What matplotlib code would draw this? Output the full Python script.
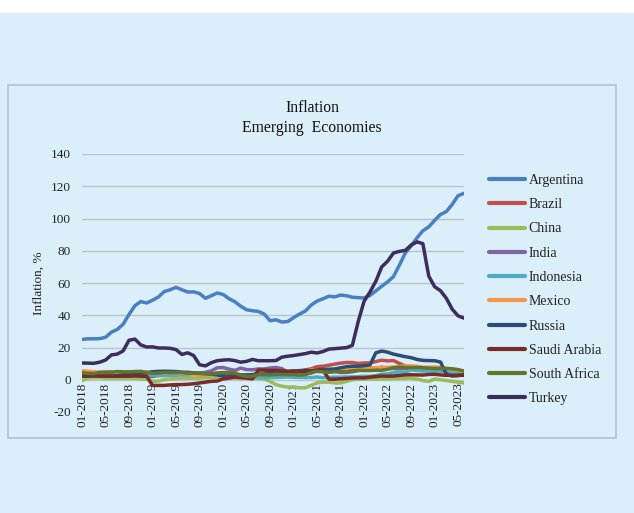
import matplotlib.pyplot as plt
from matplotlib.patches import Rectangle

plt.rcParams['font.family'] = ['Liberation Serif', 'DejaVu Serif']
plt.rcParams['axes.unicode_minus'] = False

# monthly values, 01-2018 .. 06-2023
months = ['%02d-%d' % (m, y) for y in range(2018, 2024) for m in range(1, 13)][:66]

argentina = [25.0, 25.4, 25.4, 25.5, 26.3, 29.5, 31.2, 34.4, 40.5, 45.9, 48.5, 47.6,
             49.3, 51.3, 54.7, 55.8, 57.3, 55.8, 54.4, 54.5, 53.5, 50.5, 52.1, 53.8,
             52.9, 50.3, 48.4, 45.6, 43.4, 42.8, 42.4, 40.7, 36.6, 37.2, 35.8, 36.1,
             38.5, 40.7, 42.6, 46.3, 48.8, 50.2, 51.8, 51.4, 52.5, 52.1, 51.2, 50.9,
             50.7, 52.3, 55.1, 58.0, 60.7, 64.0, 71.0, 78.5, 83.0, 88.0, 92.4, 94.8,
             98.8, 102.5, 104.3, 108.8, 114.2, 115.6]
brazil = [2.9, 2.8, 2.7, 2.8, 2.9, 4.4, 4.5, 4.2, 4.5, 4.6, 4.1, 3.8,
          3.8, 3.9, 4.6, 4.9, 4.7, 3.4, 3.2, 3.4, 2.9, 2.5, 3.3, 4.3,
          4.2, 4.0, 3.3, 2.4, 1.9, 2.1, 2.3, 2.4, 3.1, 3.9, 4.3, 4.5,
          4.6, 5.2, 6.1, 6.8, 8.1, 8.4, 9.0, 9.7, 10.3, 10.7, 10.7, 10.1,
          10.4, 10.5, 11.3, 12.1, 11.7, 11.9, 10.1, 8.7, 7.2, 6.5, 5.9, 5.8,
          5.8, 5.6, 4.7, 4.2, 3.9, 3.2]
china = [-0.5, 1.0, 1.2, 1.2, 1.0, 1.0, 1.0, 1.0, 1.0, 0.8, 0.5, 0.3,
         -1.0, -0.8, 0.0, 0.5, 0.8, 1.0, 1.0, 1.0, 1.0, 1.2, 1.2, 1.5,
         1.5, 1.5, 1.2, 1.0, 1.0, 1.0, 0.8, 0.5, -1.0, -3.0, -4.0, -4.5,
         -4.5, -5.0, -5.0, -3.5, -2.0, -1.5, -1.5, -2.0, -2.0, -1.0, 0.0, 0.5,
         0.5, 0.5, 0.5, 0.5, 0.5, 0.8, 0.8, 1.0, 1.0, 0.5, -0.5, -1.0,
         0.5, 0.0, -0.5, -1.0, -1.5, -2.0]
india = [5.1, 4.4, 4.3, 4.6, 4.9, 4.9, 4.2, 3.7, 3.7, 3.4, 2.3, 2.1,
         2.0, 2.6, 2.9, 3.0, 3.0, 3.2, 3.2, 3.3, 4.0, 4.6, 5.5, 7.4,
         7.6, 6.6, 5.8, 7.2, 6.3, 6.2, 6.7, 6.7, 7.3, 7.6, 6.9, 4.6,
         4.1, 5.0, 5.5, 4.2, 6.3, 6.3, 5.6, 5.3, 4.4, 4.5, 4.9, 5.7,
         6.0, 6.1, 7.0, 7.8, 7.0, 7.0, 6.7, 7.0, 7.4, 6.8, 5.9, 5.7,
         6.5, 6.4, 5.7, 4.7, 4.3, 4.8]
indonesia = [3.3, 3.2, 3.4, 3.4, 3.2, 3.1, 3.2, 3.2, 2.9, 3.2, 3.2, 3.1,
             2.8, 2.6, 2.5, 2.8, 3.3, 3.3, 3.3, 3.5, 3.4, 3.1, 3.0, 2.7,
             2.7, 3.0, 3.0, 2.7, 2.2, 2.0, 1.5, 1.3, 1.4, 1.4, 1.6, 1.7,
             1.6, 1.4, 1.4, 1.4, 1.7, 1.3, 1.5, 1.6, 1.6, 1.7, 1.8, 1.9,
             2.2, 2.1, 2.6, 3.5, 3.6, 4.4, 4.9, 4.7, 6.0, 5.7, 5.4, 5.5,
             5.3, 5.5, 5.0, 4.3, 4.0, 3.5]
mexico = [5.6, 5.3, 5.0, 4.6, 4.5, 4.7, 4.8, 4.9, 5.0, 4.9, 4.7, 4.8,
          4.4, 3.9, 4.0, 4.4, 4.3, 4.0, 3.8, 3.2, 3.0, 3.0, 3.0, 2.8,
          3.2, 3.7, 3.3, 2.2, 2.8, 3.3, 3.6, 4.1, 4.0, 4.1, 3.3, 3.2,
          3.5, 3.8, 4.7, 6.1, 5.9, 5.9, 5.8, 5.6, 6.0, 6.2, 7.4, 7.4,
          7.1, 7.3, 7.5, 7.7, 7.7, 8.0, 8.2, 8.7, 8.7, 8.4, 7.8, 7.8,
          7.9, 7.6, 6.9, 6.3, 5.8, 5.1]
russia = [2.2, 2.2, 2.4, 2.4, 2.4, 2.3, 2.5, 3.1, 3.4, 3.5, 3.8, 4.3,
          5.0, 5.2, 5.3, 5.2, 5.1, 4.7, 4.6, 4.3, 4.0, 3.8, 3.5, 3.0,
          2.4, 2.3, 2.5, 3.1, 3.0, 3.2, 3.4, 3.6, 3.7, 4.0, 4.4, 4.9,
          5.2, 5.7, 5.8, 5.5, 6.0, 6.5, 6.5, 6.7, 7.4, 8.1, 8.4, 8.4,
          8.7, 9.2, 16.7, 17.8, 17.1, 15.9, 15.1, 14.3, 13.7, 12.6, 12.0, 11.9,
          11.8, 11.0, 3.5, 2.3, 2.5, 3.3]
saudi = [2.5, 2.5, 2.5, 2.3, 2.2, 2.2, 2.2, 2.2, 2.2, 2.4, 2.2, 2.2,
         -3.5, -3.5, -3.5, -3.2, -3.0, -3.0, -2.8, -2.5, -2.0, -1.5, -1.0, -0.8,
         0.5, 1.0, 1.5, 1.3, 1.0, 0.5, 6.0, 6.0, 5.8, 5.8, 5.5, 5.3,
         5.5, 5.0, 5.0, 5.3, 5.8, 6.0, 0.4, 0.3, 0.6, 0.8, 1.1, 1.2,
         1.2, 1.6, 2.0, 2.3, 2.2, 2.3, 2.7, 3.0, 3.1, 3.0, 2.9, 3.3,
         3.4, 3.0, 2.7, 2.7, 2.8, 2.7]
south_africa = [4.4, 4.0, 3.8, 4.5, 4.4, 4.6, 5.1, 4.9, 4.9, 5.1, 5.2, 4.5,
                4.0, 4.1, 4.5, 4.4, 4.5, 4.5, 4.0, 4.3, 4.1, 3.7, 3.6, 4.0,
                4.5, 4.6, 4.1, 3.0, 2.1, 2.2, 3.2, 3.1, 3.0, 3.3, 3.2, 3.1,
                3.2, 2.9, 3.2, 4.4, 5.2, 4.9, 4.6, 4.9, 5.0, 5.0, 5.5, 5.9,
                5.7, 5.7, 5.9, 5.9, 6.5, 7.4, 7.8, 7.6, 7.5, 7.6, 7.4, 7.2,
                6.9, 7.0, 7.1, 6.8, 6.3, 5.4]
turkey = [10.4, 10.3, 10.2, 10.9, 12.2, 15.4, 15.9, 17.9, 24.5, 25.2, 21.6, 20.3,
          20.4, 19.7, 19.7, 19.5, 18.7, 15.7, 16.7, 15.0, 9.3, 8.6, 10.6, 11.8,
          12.2, 12.4, 11.9, 10.9, 11.4, 12.6, 11.8, 11.8, 11.8, 11.9, 14.0, 14.6,
          15.0, 15.6, 16.2, 17.1, 16.6, 17.5, 19.0, 19.3, 19.6, 19.9, 21.3, 36.1,
          48.7, 54.4, 61.1, 70.0, 73.5, 78.6, 79.6, 80.2, 83.5, 85.5, 84.4, 64.3,
          57.7, 55.2, 50.5, 43.7, 39.6, 38.2]

names = ['Argentina', 'Brazil', 'China', 'India', 'Indonesia', 'Mexico',
         'Russia', 'Saudi Arabia', 'South Africa', 'Turkey']
series = [argentina, brazil, china, india, indonesia, mexico,
          russia, saudi, south_africa, turkey]
colors = ['#4a7fc1', '#c0504d', '#9bbb59', '#8064a2', '#4bacc6', '#f79646',
          '#2c4d75', '#772c2a', '#5f7530', '#3e2d5c']

bg = '#dbeffa'
fig = plt.figure(figsize=(6.34, 5.13), dpi=100, facecolor=bg)
# white strip at the very top and the chart panel border
fig.patches.append(Rectangle((0, 1 - 13 / 513), 1, 13 / 513, transform=fig.transFigure,
                             facecolor='white', edgecolor='none'))
fig.patches.append(Rectangle((8 / 634, 1 - 438 / 513), 608 / 634, 353 / 513,
                             transform=fig.transFigure, fill=False,
                             edgecolor='#b3c3cc', lw=1.2))

ax = fig.add_axes([82 / 634, 1 - 412 / 513, 382 / 634, 258 / 513])
ax.set_facecolor(bg)
for s in ['top', 'right', 'left']:
    ax.spines[s].set_visible(False)
# category labels hang from the zero line, like the Excel original
ax.spines['bottom'].set_position(('data', 0))
ax.spines['bottom'].set_visible(False)

x = list(range(len(months)))
for name, vals, c in zip(names, series, colors):
    ax.plot(x, vals, color=c, lw=2.5, label=name, solid_capstyle='round')

ax.set_ylim(-20, 140)
ax.set_yticks(range(-20, 141, 20))
ax.set_xlim(0, len(months) - 1)
ax.set_xticks(x[::4])
ax.set_xticklabels(months[::4])
ax.grid(axis='y', color='#bac3c8', lw=1)
ax.set_axisbelow(True)
ax.tick_params(axis='y', length=0, pad=8, labelsize=9.5, labelcolor='#222222')
ax.tick_params(axis='x', length=0, pad=2, labelsize=9.5, labelcolor='#222222',
               labelrotation=90)

ax.set_ylabel('Inflation, %', fontsize=9.5, color='#222222')
ax.yaxis.set_label_coords(-0.097, 0.5)

fig.text(312 / 634, 1 - 108 / 513, 'Inflation', ha='center', va='center',
         fontsize=11.3, color='#111111')
fig.text(312 / 634, 1 - 128 / 513, 'Emerging  Economies', ha='center', va='center',
         fontsize=11.3, color='#111111')

leg = ax.legend(loc='upper left', bbox_to_anchor=(489 / 634, 1 - 174 / 513),
                bbox_transform=fig.transFigure, frameon=False, fontsize=10,
                handlelength=2.6, handletextpad=0.25, labelspacing=0.81,
                borderpad=0, borderaxespad=0)
for t in leg.get_texts():
    t.set_color('#222222')
for h in leg.get_lines():
    h.set_linewidth(3)

fig.savefig('out.png', dpi=100, facecolor=bg)
